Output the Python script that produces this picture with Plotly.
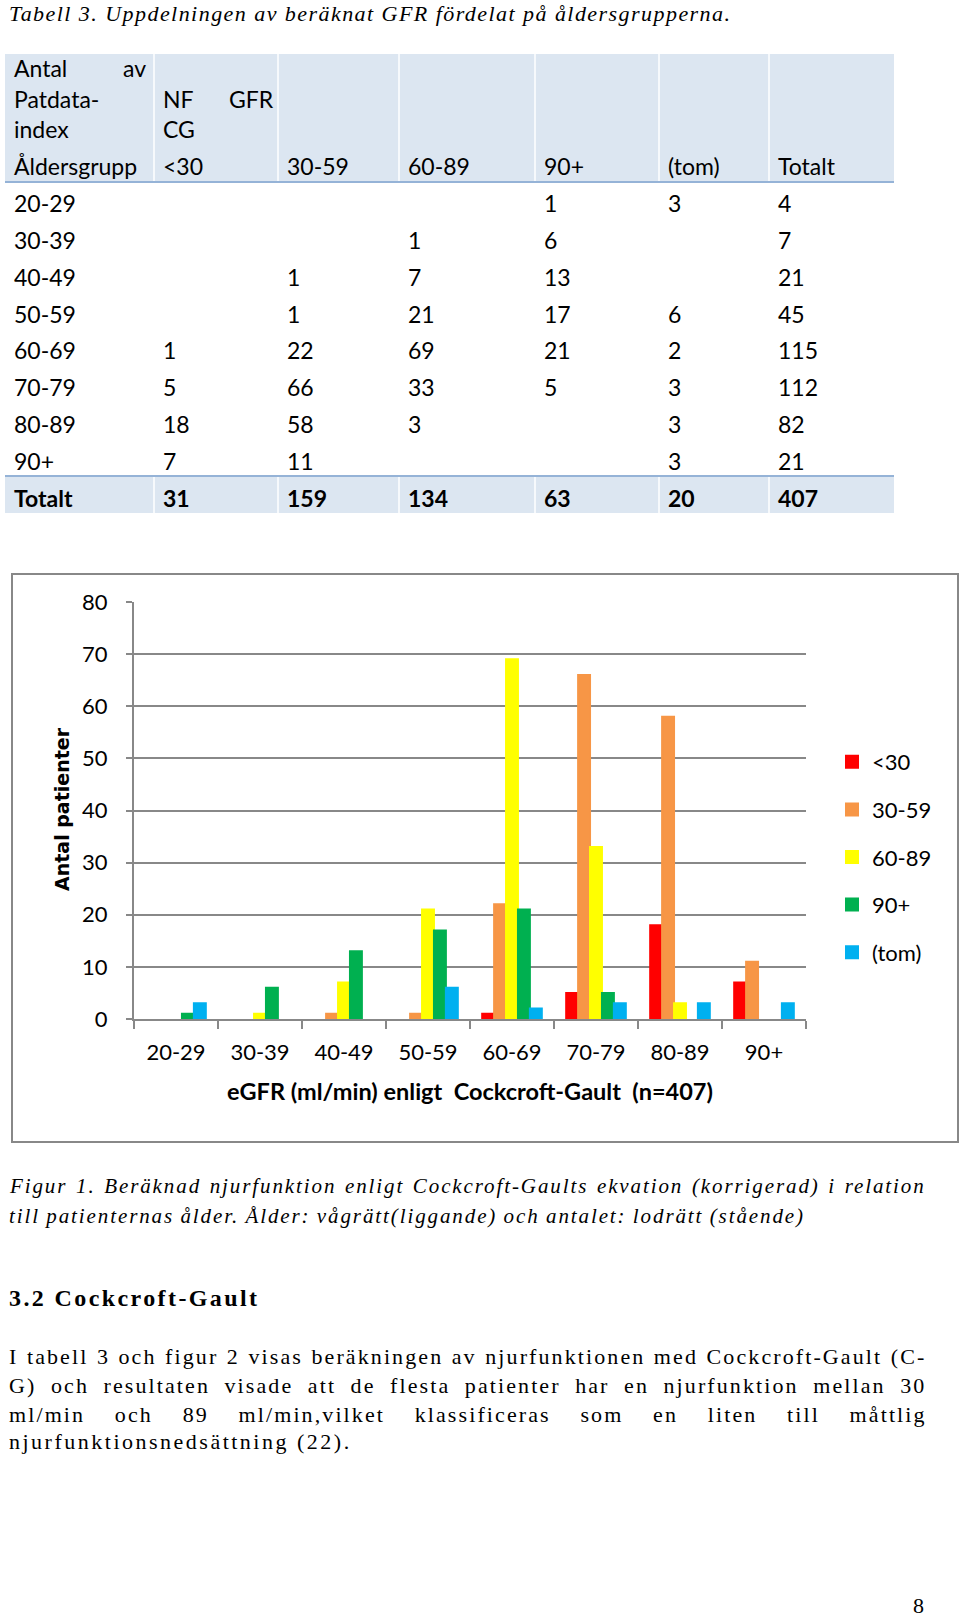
import plotly.graph_objects as go

W, H = 960, 1617

# ---------------- data ----------------
age_groups = ["20-29", "30-39", "40-49", "50-59", "60-69", "70-79", "80-89", "90+"]
gfr_classes = ["<30", "30-59", "60-89", "90+", "(tom)"]
n_lt30 = [None, None, None, None, 1, 5, 18, 7]
n_30_59 = [None, None, 1, 1, 22, 66, 58, 11]
n_60_89 = [None, 1, 7, 21, 69, 33, 3, None]
n_90plus = [1, 6, 13, 17, 21, 5, None, None]
n_tom = [3, None, None, 6, 2, 3, 3, 3]
row_totals = [4, 7, 21, 45, 115, 112, 82, 21]
col_totals = [31, 159, 134, 63, 20, 407]
series = [n_lt30, n_30_59, n_60_89, n_90plus, n_tom]
colors = ["#FF0000", "#F79646", "#FFFF00", "#00B050", "#00B0F0"]

title_text = "Tabell 3. Uppdelningen av beräknat GFR fördelat på åldersgrupperna."
caption_lines = [
    "Figur 1. Beräknad njurfunktion enligt Cockcroft-Gaults ekvation (korrigerad) i relation",
    "till patienternas ålder. Ålder: vågrätt(liggande) och antalet: lodrätt (stående)",
]
heading_text = "3.2 Cockcroft-Gault"
para_lines = [
    "I tabell 3 och figur 2 visas beräkningen av njurfunktionen med Cockcroft-Gault (C-",
    "G) och resultaten visade att de flesta patienter har en njurfunktion mellan 30",
    "ml/min och 89 ml/min,vilket klassificeras som en liten till måttlig",
    "njurfunktionsnedsättning (22).",
]


def px(x):
    return x / W


def py(y):
    return 1 - y / H


TFONT = "Lato"
SERIF = "Liberation Serif"

fig = go.Figure()
for name, vals, col in zip(gfr_classes, series, colors):
    fig.add_trace(go.Bar(x=age_groups, y=vals, name=name,
                         marker=dict(color=col, line=dict(width=2, color=col)),
                         legendgroup=name))

annotations = []
shapes = []


def txt(x, y, s, size=23, family=TFONT, xanchor="left", color="#000", angle=0):
    annotations.append(dict(x=px(x), y=py(y), xref="paper", yref="paper", text=s, showarrow=False,
                            xanchor=xanchor, yanchor="middle", textangle=angle,
                            font=dict(family=family, size=size, color=color)))


# ---------------- table ----------------
HDR = "#DCE6F1"
LINE = "#95B3D7"
shapes.append(dict(type="rect", xref="paper", yref="paper", x0=px(5), x1=px(894), y0=py(54), y1=py(182),
                   fillcolor=HDR, line=dict(width=0), layer="below"))
shapes.append(dict(type="rect", xref="paper", yref="paper", x0=px(5), x1=px(894), y0=py(476), y1=py(513),
                   fillcolor=HDR, line=dict(width=0), layer="below"))
for yy in (182, 476):
    shapes.append(dict(type="line", xref="paper", yref="paper", x0=px(5), x1=px(894), y0=py(yy), y1=py(yy),
                       line=dict(color=LINE, width=2)))
col_x = [12, 161, 285, 406, 542, 666, 776]
for cx in col_x[1:]:
    for (a, b) in ((54, 181), (477, 513)):
        shapes.append(dict(type="line", xref="paper", yref="paper", x0=px(cx - 7), x1=px(cx - 7),
                           y0=py(a), y1=py(b), line=dict(color="#FFFFFF", width=1.5)))

txt(12, 68, "Antal")
txt(121, 68, "av")
txt(12, 99, "Patdata-")
txt(161, 99, "NF")
txt(227, 99, "GFR")
txt(12, 129, "index")
txt(161, 129, "CG")
header_row = ["Åldersgrupp"] + gfr_classes + ["Totalt"]
for cx, s in zip(col_x, header_row):
    txt(cx, 166, s)

row_y0, row_step = 203, 36.85
for i, ag in enumerate(age_groups):
    yy = row_y0 + i * row_step
    txt(col_x[0], yy, ag)
    for j, vals in enumerate(series):
        if vals[i] is not None:
            txt(col_x[j + 1], yy, str(vals[i]))
    txt(col_x[6], yy, str(row_totals[i]))
txt(col_x[0], 498, "<b>Totalt</b>")
for j, v in enumerate(col_totals):
    txt(col_x[j + 1], 498, "<b>%d</b>" % v)

# ---------------- chart frame ----------------
shapes.append(dict(type="rect", xref="paper", yref="paper", x0=px(12), x1=px(958), y0=py(574), y1=py(1142),
                   line=dict(color="#888888", width=2), fillcolor="rgba(0,0,0,0)"))
txt(62, 809, "<b>Antal patienter</b>", size=19, family="DejaVu Sans", xanchor="center", angle=-90)
txt(470, 1091, "<b>eGFR (ml/min) enligt  Cockcroft-Gault  (n=407)</b>", size=23.5, xanchor="center")

# ---------------- texts ----------------
txt(7, 13, '<i><span style="letter-spacing:1.45px">%s</span></i>' % title_text, size=22, family=SERIF)
for s, yy, ws in zip(caption_lines, (1186, 1216), (1.5, -0.8)):
    txt(7, yy, '<i><span style="letter-spacing:1.9px;word-spacing:%.1fpx">%s</span></i>' % (ws, s),
        size=21, family=SERIF)
txt(7, 1298, '<b><span style="letter-spacing:2.4px">%s</span></b>' % heading_text, size=24, family=SERIF)
para_ls = [2.1, 2.1, 2.1, 2.5]
para_ws = [0.9, 6.9, 22.1, 0]
for s, yy, ls, ws in zip(para_lines, (1356, 1385, 1414, 1441), para_ls, para_ws):
    txt(7, yy, '<span style="letter-spacing:%.2fpx;word-spacing:%.1fpx">%s</span>' % (ls, ws, s),
        size=22, family=SERIF)
txt(918, 1605, "8", size=22, family=SERIF, xanchor="center")

fig.update_layout(
    width=W, height=H, margin=dict(l=0, r=0, t=0, b=0, autoexpand=False),
    paper_bgcolor="white", plot_bgcolor="white",
    barmode="group", bargap=0.29, bargroupgap=0,
    font=dict(family=TFONT, size=22, color="#000"),
    xaxis=dict(domain=[px(134), px(806)], type="category", showgrid=False, showline=True,
               linecolor="#888888", linewidth=2, ticks="outside", tickson="boundaries", ticklen=8,
               tickwidth=2, tickcolor="#888888", tickfont=dict(family=TFONT, size=22),
               ticklabelstandoff=13, fixedrange=True, automargin=False, layer="above traces"),
    yaxis=dict(domain=[py(1019), py(602)], range=[0, 80], dtick=10, showgrid=True, gridcolor="#888888",
               gridwidth=2, showline=True, linecolor="#888888", linewidth=2, ticks="outside", ticklen=6,
               tickwidth=2, tickcolor="#888888", tickfont=dict(family=TFONT, size=22),
               ticklabelstandoff=14, zeroline=False, fixedrange=True, automargin=False),
    legend=dict(x=px(832), y=py(741), xanchor="left", yanchor="top", font=dict(family=TFONT, size=22),
                tracegroupgap=16, bgcolor="rgba(0,0,0,0)", traceorder="grouped"),
    annotations=annotations, shapes=shapes,
)

fig.write_html(
    "out.html",
    config={"displayModeBar": False},
    post_script="document.body.style.margin='0';document.body.style.overflow='hidden';"
                "document.documentElement.style.overflow='hidden';",
)
